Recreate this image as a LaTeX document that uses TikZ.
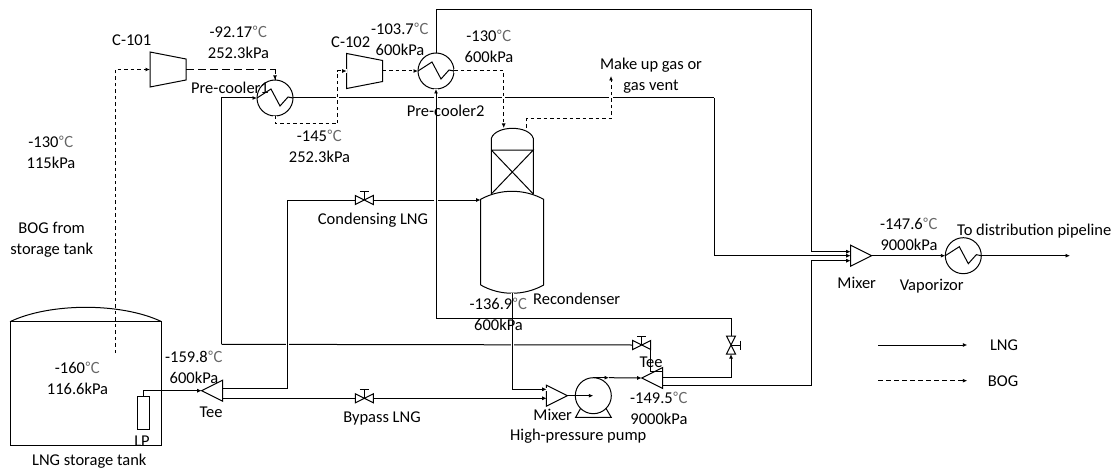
\documentclass[tikz,border=0pt]{standalone}
\usepackage{fontspec}
\setmainfont{Carlito}
\newfontfamily\cjk{Noto Sans CJK SC}
\usetikzlibrary{arrows.meta, shapes.geometric}
\newcommand{\degc}{{\color{black!60}\fontsize{15}{21}\selectfont\cjk ℃}}

\begin{document}
\begin{tikzpicture}[
        x=1pt, y=-1pt,
        every node/.style={font=\fontsize{16.5}{21}\selectfont, align=center, inner sep=0pt},
        lng/.style={draw, line width=1pt, -{Latex[length=4.5pt,width=4pt]}},
        bog/.style={lng, dash pattern=on 3.5pt off 3pt},
        boglong/.style={bog, dash pattern=on 8pt off 4pt},
        over/.style={preaction={draw=white, line width=3.5pt, solid, -}},
        wall/.style={draw, line width=1pt},
        tri/.style={draw, line width=1pt, isosceles triangle, isosceles triangle stretches, minimum width=21pt, minimum height=21pt, inner sep=0pt, outer sep=0pt},
        tee/.style={tri, shape border rotate=180},
        exch/.style={draw, line width=1pt, circle, minimum size=36pt, inner sep=0pt, outer sep=0pt,
            path picture={\draw[line width=1pt, shift={(path picture bounding box.center)}] (-18,0) -- (-4,-9) -- (5,8) -- (13,-1) -- (18,0);}},
        pumpc/.style={draw, line width=1pt, circle, minimum size=36pt, inner sep=0pt, outer sep=0pt},
        comp/.pic={
            \draw[line width=1pt] (-18,-17.5) -- (18,-10.5) -- (18,10.5) -- (-18,17.5) -- cycle;
            \coordinate (-w) at (-18,0);
            \coordinate (-e) at (18,0);
        },
        valve/.pic={
            \draw[line width=1pt] (-9,-4.5) -- (9,4.5) -- (9,-4.5) -- (-9,4.5) -- cycle;
            \draw[line width=1pt] (0,0) -- (0,-9) (-4.5,-9) -- (4.5,-9);
            \coordinate (-w) at (-9,0);
            \coordinate (-e) at (9,0);
        }
    ]
    \useasboundingbox (0,0) rectangle (1118,468);
    % Equipment
    \pic (c101) at (168,69.5) {comp};
    \pic (c102) at (364.7,71) {comp};
    \node[exch] (cool1) at (275,98) {};
    \node[exch] (cool2) at (436,71) {};
    \node[exch] (vap) at (963.3,255.7) {};
    \node[pumpc] (pump) at (593.3,395.7) {};
    \node[tri, anchor=apex] (mix1) at (871.7,255.7) {};
    \node[tri, anchor=apex] (mix2) at (567.3,395.7) {};
    \node[tee, anchor=apex] (tee1) at (201.7,390.7) {};
    \node[tee, anchor=apex] (tee2) at (641.7,378) {};
    \node[wall, minimum width=151.7pt, minimum height=123.3pt, inner sep=0pt, outer sep=0pt] (tank) at (85.85,383.35) {};
    \node[wall, minimum width=12pt, minimum height=32.6pt, inner sep=0pt, outer sep=0pt] (lp) at (143.7,413) {};
    \pic (v1) at (364.3,200) {valve};
    \pic (v2) at (364.3,398.3) {valve};
    \pic (v3) at (641.7,345) {valve};
    \pic[rotate=-90] (v4) at (731,345) {valve};

    % Tank and recondenser
    \draw[wall] (tank.north west) .. controls +(40,-19.2) and +(-40,-19.2) .. (tank.north east);
    \coordinate (recin) at (503.7,128);
    \coordinate (recvent) at (526.7,128);
    \coordinate (reccond) at (480.7,200);
    \coordinate (recout) at (512.3,293);
    \draw[wall] (491.3,194) -- (491.3,138.3) .. controls (496,125) and (529,125) .. (533.3,138.3) -- (533.3,194);
    \draw[wall] (491.3,150) -- (533.3,150) -- (491.3,194) (491.3,150) -- (533.3,194);
    \draw[wall] (480.7,285) -- (480.7,199.3) .. controls (500,188.6) and (524,188.6) .. (543.7,199.3) -- (543.7,285);
    \draw[wall] (480.7,285) .. controls (500,296) and (524,296) .. (543.7,285);

    % Named bends
    \coordinate (teea) at (222.3,388);
    \coordinate (teeb) at (222.3,398.3);
    \coordinate (tee2a) at (662.7,371.3);
    \coordinate (tee2b) at (662.7,377);
    \coordinate (tee2c) at (662.7,385);
    \coordinate (mixa) at (850.7,251.7);
    \coordinate (mixb) at (850.7,255.7);
    \coordinate (mixc) at (850.7,260.7);
    \coordinate (mix2a) at (546.7,389.3);
    \coordinate (mix2b) at (546.7,398.3);
    \coordinate (pre1in) at (221.7,344.3);
    \coordinate (bend) at (714,98);
    \coordinate (toprt) at (811.7,10);
    \coordinate (lowrt) at (811.7,385);
    \coordinate (retc) at (436,318);
    \coordinate (cond) at (287.7,200);
    \coordinate (bogin) at (115,353);
    \coordinate (bog1) at (337.7,124);
    \coordinate (vent1) at (526.7,119);
    \coordinate (vent2) at (611,76);
    \coordinate (pumpmid) at (609,377.7);
    \coordinate (outend) at (1070,255.7);
    \coordinate (lnga) at (878.3,345);
    \coordinate (lngb) at (967.3,345);
    \coordinate (boga) at (878.3,380.7);
    \coordinate (bogb) at (967.3,380.7);

    % LNG lines
    \draw[lng] (lp.north) |- (tee1.apex);
    \draw[lng, -] (v3-w) -- (pre1in);
    \draw[lng] (pre1in) |- (cool1.west);
    \draw[lng, -] (cool1.east) -- (bend);
    \draw[lng] (bend) |- (mixb);
    \draw[lng] (lowrt) |- (mixc);
    \draw[lng, -] (tee2c) -- (lowrt);
    \draw[lng, -] (teea) -| (cond);
    \draw[lng, over, -] (teea -| cond) -- (cond);
    \draw[lng, -] (cond) -- (v1-w);
    \draw[lng] (v1-e) -- (reccond);
    \draw[lng, -] (teeb) -- (v2-w);
    \draw[lng] (v2-e) -- (mix2b);
    \draw[lng, over] (recout) |- (mix2a);
    \draw[lng, -] (v4-w) |- (retc);
    \draw[lng, over] (retc) -- (cool2.south);
    \draw[lng] (cool2.north) |- (toprt) |- (mixa);
    \draw[lng] (mix1.apex) -- (vap.west);
    \draw[lng] (vap.east) -- (outend);
    \draw[lng] (mix2.apex) -- (pump.center);
    \draw[lng] (pump.north) -- (pumpmid);
    \draw[lng] (pumpmid) -- (tee2.apex);
    \draw[lng, -] (tee2a) -| (v3-e);
    \draw[lng] (tee2b) -| (v4-e);
    \draw[wall] (pump.south west) -- ++(-5,9) -- ++(35.7,0) -- (pump.south east);
    \draw[lng] (lnga) -- (lngb);

    % BOG lines
    \draw[bog] (bogin) |- (c101-w);
    \draw[boglong, -] (c101-e) -| (cool1.north);
    \draw[bog] (cool1.north) ++(0,-9) -- (cool1.north);
    \draw[bog, over] (cool1.south) |- (bog1) |- (c102-w);
    \draw[bog] (c102-e) -- (cool2.west);
    \draw[bog, over] (cool2.east) -| (recin);
    \draw[bog, over] (recvent) |- (vent1) -| (vent2);
    \draw[bog, dash pattern=on 5pt off 3pt] (boga) -- (bogb);

    % Labels
    \node (lc101) at (131.7,40) {C-101};
    \node (lc102) at (350.7,42.7) {C-102};
    \node (s1) at (238.5,42.5) {-92.17\degc\\252.3kPa};
    \node (s2) at (319.5,146) {-145\degc\\252.3kPa};
    \node (s3) at (400,39) {-103.7\degc\\600kPa};
    \node (s4) at (489,46) {-130\degc\\600kPa};
    \node (s5) at (51,152.5) {-130\degc\\115kPa};
    \node (s6) at (77.5,378.5) {-160\degc\\116.6kPa};
    \node (s7) at (194,367) {-159.8\degc\\600kPa};
    \node (s8) at (498.5,314) {-136.9\degc\\600kPa};
    \node (s9) at (659,408) {-149.5\degc\\9000kPa};
    \node (s10) at (909,234) {-147.6\degc\\9000kPa};
    \node (lcool1) at (230,88) {Pre-cooler1};
    \node (lcool2) at (445.7,111) {Pre-cooler2};
    \node (lmake) at (651,76) {Make up gas or\\gas vent};
    \node (lbog) at (51.7,240) {BOG from\\storage tank};
    \node (lcond) at (373,220) {Condensing LNG};
    \node (lby) at (382,418) {Bypass LNG};
    \node (lrec) at (576.7,299) {Recondenser};
    \node (ltee2) at (651,362.7) {Tee};
    \node (ltee1) at (211,412.7) {Tee};
    \node (lmix2) at (552.7,415) {Mixer};
    \node (lpump) at (578.3,436) {High-pressure pump};
    \node (lmix1) at (856.7,283) {Mixer};
    \node (lvap) at (931.7,286) {Vaporizor};
    \node (ldist) at (1034.3,230.7) {To distribution pipeline};
    \node (llp) at (142,441.7) {LP};
    \node (ltank) at (89.3,461) {LNG storage tank};
    \node (llng) at (1004,345) {LNG};
    \node (lbog2) at (1003,381) {BOG};
    \end{tikzpicture}
\end{document}
